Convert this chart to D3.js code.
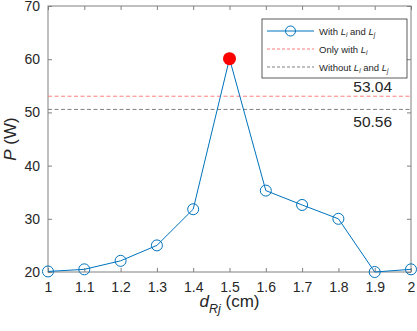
<!DOCTYPE html>
<html>
<head>
<meta charset="utf-8">
<script src="https://cdn.jsdelivr.net/npm/d3@7"></script>
<style>
  body { margin: 0; background: #fff; }
  text { font-family: "Liberation Sans", Arial, sans-serif; fill: #262626; }
</style>
</head>
<body>
<div id="chart"></div>
<script>
const distances = [1.0, 1.1, 1.2, 1.3, 1.4, 1.5, 1.6, 1.7, 1.8, 1.9, 2.0]
const power = [20.1, 20.5, 22.1, 25.0, 31.8, 60.1, 35.3, 32.6, 30.0, 20.0, 20.5]
const peakIndex = 5
const onlyLi = 53.04
const withoutLiLj = 50.56
const xTicks = [1, 1.1, 1.2, 1.3, 1.4, 1.5, 1.6, 1.7, 1.8, 1.9, 2]
const yTicks = [20, 30, 40, 50, 60, 70]

const W = 417, H = 331
const margin = { top: 6, right: 6, bottom: 59, left: 48 }
const width = W - margin.left - margin.right
const height = H - margin.top - margin.bottom

const svg = d3.select('#chart').append('svg')
    .attr('width', W).attr('height', H)
  .append('g')
    .attr('transform', `translate(${margin.left},${margin.top})`)

const x = d3.scaleLinear().domain([1, 2]).range([0, width])
const y = d3.scaleLinear().domain([20, 70]).range([height, 0])

const axisColor = '#808080'
function styleAxis(g) {
  g.select('.domain').remove()
  g.selectAll('.tick line').attr('stroke', axisColor)
  g.selectAll('.tick text').style('font-size', '14px').attr('fill', '#262626')
}

// ticks on all four sides, pointing inward
svg.append('g').attr('transform', `translate(0,${height})`)
  .call(d3.axisBottom(x).tickValues(xTicks).tickSize(-4).tickPadding(10).tickFormat(d3.format('')))
  .call(styleAxis)
svg.append('g')
  .call(d3.axisTop(x).tickValues(xTicks).tickSize(-4).tickFormat(''))
  .call(styleAxis)
svg.append('g')
  .call(d3.axisLeft(y).tickValues(yTicks).tickSize(-4).tickPadding(8))
  .call(styleAxis)
svg.append('g').attr('transform', `translate(${width},0)`)
  .call(d3.axisRight(y).tickValues(yTicks).tickSize(-4).tickFormat(''))
  .call(styleAxis)

svg.append('rect')
  .attr('width', width).attr('height', height)
  .attr('fill', 'none').attr('stroke', axisColor).attr('stroke-width', 1)

// reference lines
svg.append('line')
  .attr('x1', 0).attr('x2', width).attr('y1', y(onlyLi)).attr('y2', y(onlyLi))
  .attr('stroke', '#ff7f7f').attr('stroke-dasharray', '4,2.5')
svg.append('line')
  .attr('x1', 0).attr('x2', width).attr('y1', y(withoutLiLj)).attr('y2', y(withoutLiLj))
  .attr('stroke', '#808080').attr('stroke-dasharray', '4,2.5')

svg.append('text').attr('x', x(1.948)).attr('y', y(onlyLi) - 4)
  .attr('text-anchor', 'end').style('font-size', '15.5px').attr('fill', '#000').text(onlyLi.toFixed(2))
svg.append('text').attr('x', x(1.948)).attr('y', y(withoutLiLj) + 17.5)
  .attr('text-anchor', 'end').style('font-size', '15.5px').attr('fill', '#000').text(withoutLiLj.toFixed(2))

// main series
const pts = distances.map((d, i) => ({ d: d, p: power[i] }))
const blue = '#0072BD'
svg.append('path').datum(pts)
  .attr('fill', 'none').attr('stroke', blue).attr('stroke-width', 1)
  .attr('d', d3.line().x(d => x(d.d)).y(d => y(d.p)))
svg.selectAll('.pt').data(pts).enter().append('circle')
  .attr('class', 'pt')
  .attr('cx', d => x(d.d)).attr('cy', d => y(d.p)).attr('r', 5.5)
  .attr('fill', 'none').attr('stroke', blue).attr('stroke-width', 1)
svg.append('circle')
  .attr('cx', x(distances[peakIndex])).attr('cy', y(power[peakIndex])).attr('r', 6.5)
  .attr('fill', '#ff0000')

// legend
const lg = svg.append('g').attr('transform', `translate(${262 - margin.left},${19 - margin.top})`)
lg.append('rect').attr('width', 145).attr('height', 59)
  .attr('fill', '#fff').attr('stroke', '#262626').attr('stroke-width', 0.75)
const items = [
  { stroke: blue, dash: null, marker: true, parts: ['With ', 'L', 'i', ' and ', 'L', 'j'] },
  { stroke: '#ff7f7f', dash: '3,2', marker: false, parts: ['Only with ', 'L', 'i'] },
  { stroke: '#808080', dash: '3,2', marker: false, parts: ['Without ', 'L', 'i', ' and ', 'L', 'j'] }
]
items.forEach((it, i) => {
  const cy = 12 + i * 18
  lg.append('line').attr('x1', 5).attr('x2', 52).attr('y1', cy).attr('y2', cy)
    .attr('stroke', it.stroke).attr('stroke-dasharray', it.dash)
  if (it.marker) {
    lg.append('circle').attr('cx', 28.5).attr('cy', cy).attr('r', 5)
      .attr('fill', 'none').attr('stroke', it.stroke)
  }
  const t = lg.append('text').attr('x', 57).attr('y', cy + 3.5).style('font-size', '9.5px').attr('fill', '#000')
  it.parts.forEach((s, k) => {
    const sp = t.append('tspan').text(s)
    if (s === 'L') sp.style('font-style', 'italic')
    if (s === 'i' || s === 'j') sp.style('font-size', '6.5px').style('font-style', 'italic').attr('dy', 2)
    else if (k > 0 && (it.parts[k - 1] === 'i' || it.parts[k - 1] === 'j')) sp.attr('dy', -2)
  })
})

// axis labels
const xl = svg.append('text').attr('x', width / 2).attr('y', height + 35)
  .attr('text-anchor', 'middle').style('font-size', '17px').attr('fill', '#262626')
xl.append('tspan').text('d').style('font-style', 'italic')
xl.append('tspan').text('Rj').style('font-style', 'italic').style('font-size', '12.5px').attr('dy', 6)
xl.append('tspan').text(' (cm)').attr('dy', -6)

const yl = svg.append('text')
  .attr('transform', `translate(${-32},${height / 2}) rotate(-90)`)
  .attr('text-anchor', 'middle').style('font-size', '17px').attr('fill', '#262626')
yl.append('tspan').text('P').style('font-style', 'italic')
yl.append('tspan').text(' (W)')
</script>
</body>
</html>
